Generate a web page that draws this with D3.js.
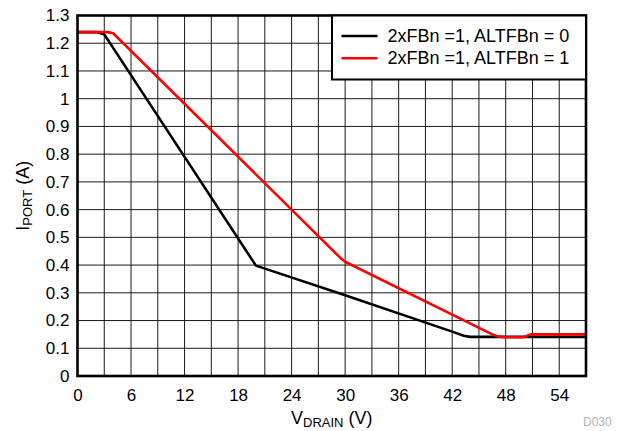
<!DOCTYPE html>
<html>
<meta charset="utf-8">
<head>
<script src="https://d3js.org/d3.v7.min.js"></script>
<style>
  html, body {margin:0; padding:0; background:#fff;}
  svg {display:block; font-family:"Liberation Sans", Arial, sans-serif;}
</style>
</head>
<body>
<svg class="svg"></svg>
<script>

// curve data: V_DRAIN (V), I_PORT (A)
const blackV = [0, 2.2, 3, 20, 30, 42, 43.3, 44, 57]
const blackI = [1.24, 1.24, 1.232, 0.398, 0.291, 0.16, 0.145, 0.141, 0.141]

const redV = [0, 3.4, 4, 29.5, 30, 46.5, 47.2, 48, 50, 50.8, 57]
const redI = [1.24, 1.24, 1.236, 0.425, 0.412, 0.15, 0.142, 0.14, 0.14, 0.15, 0.15]

const legendLabels = ["2xFBn =1, ALTFBn = 0", "2xFBn =1, ALTFBn = 1"]
const seriesColors = ["#000000", "#ff0000"]

const xTicks = [0, 6, 12, 18, 24, 30, 36, 42, 48, 54]
const xGrid = d3.range(0, 58, 3)
const yTicks = d3.range(0, 14).map(d => d / 10)

const margin = ({left:77.5, right:36, top:15.5, bottom:55})
const width = 622, height = 431

const svg = d3.select("svg")
  .attr("width", width)
  .attr("height", height)

const x = d3.scaleLinear().domain([0, 57]).range([margin.left, width - margin.right])
const y = d3.scaleLinear().domain([0, 1.3]).range([height - margin.bottom, margin.top])

// grid
svg.append("g")
  .selectAll("line")
  .data(xGrid)
  .enter().append("line")
  .attr("x1", d => x(d)).attr("x2", d => x(d))
  .attr("y1", y(0)).attr("y2", y(1.3))
  .attr("stroke", "#1a1a1a")
  .attr("stroke-width", 1)

svg.append("g")
  .selectAll("line")
  .data(yTicks)
  .enter().append("line")
  .attr("x1", x(0)).attr("x2", x(57))
  .attr("y1", d => y(d)).attr("y2", d => y(d))
  .attr("stroke", "#1a1a1a")
  .attr("stroke-width", 1)

// tick labels
const xAxis = d3.axisBottom(x).tickValues(xTicks).tickSize(0).tickPadding(13).tickFormat(d3.format("d"))
svg.append("g")
  .attr("transform", "translate(0," + y(0) + ")")
  .call(xAxis)
  .call(g => g.select(".domain").remove())
  .selectAll("text")
  .style("font-size", "17px")
  .style("font-family", "Liberation Sans, Arial, sans-serif")
  .attr("fill", "#000")

const yAxis = d3.axisLeft(y).tickValues(yTicks).tickSize(0).tickPadding(8).tickFormat(d => d3.format("")(+d.toFixed(1)))
svg.append("g")
  .attr("transform", "translate(" + x(0) + ",0)")
  .call(yAxis)
  .call(g => g.select(".domain").remove())
  .selectAll("text")
  .style("font-size", "17px")
  .style("font-family", "Liberation Sans, Arial, sans-serif")
  .attr("fill", "#000")

// curves
const line = d3.line()
  .x(d => x(d[0]))
  .y(d => y(d[1]))

const series = [d3.zip(blackV, blackI), d3.zip(redV, redI)]

svg.append("g")
  .selectAll("path")
  .data(series)
  .enter().append("path")
  .attr("d", line)
  .attr("fill", "none")
  .attr("stroke", (d, i) => seriesColors[i])
  .attr("stroke-width", 2.6)
  .attr("stroke-linejoin", "round")

// frame
svg.append("rect")
  .attr("x", x(0)).attr("y", y(1.3))
  .attr("width", x(57) - x(0)).attr("height", y(0) - y(1.3))
  .attr("fill", "none")
  .attr("stroke", "#000")
  .attr("stroke-width", 2.6)

// legend
const lg = svg.append("g")
lg.append("rect")
  .attr("x", 332).attr("y", y(1.3))
  .attr("width", x(57) - 332).attr("height", 64)
  .attr("fill", "#fff")
  .attr("stroke", "#000")
  .attr("stroke-width", 2)

lg.selectAll(".lgline")
  .data(legendLabels)
  .enter().append("line")
  .attr("class", "lgline")
  .attr("x1", 341.5).attr("x2", 377.5)
  .attr("y1", (d, i) => 36 + i * 22.3).attr("y2", (d, i) => 36 + i * 22.3)
  .attr("stroke", (d, i) => seriesColors[i])
  .attr("stroke-width", 2.6)

lg.selectAll(".lgtext")
  .data(legendLabels)
  .enter().append("text")
  .attr("class", "lgtext")
  .attr("x", 387.5)
  .attr("y", (d, i) => 42 + i * 22.3)
  .text(d => d)
  .style("font-size", "18px")
  .attr("fill", "#000")

// axis titles
const xt = svg.append("text")
  .attr("x", (x(0) + x(57)) / 2)
  .attr("y", 424)
  .attr("text-anchor", "middle")
  .style("font-size", "18px")
  .attr("fill", "#000")
xt.append("tspan").text("V")
xt.append("tspan").text("DRAIN").attr("dy", 3).style("font-size", "13px")
xt.append("tspan").text(" (V)").attr("dy", -3)

const yt = svg.append("text")
  .attr("transform", "translate(29," + (y(0.65)) + ") rotate(-90)")
  .attr("text-anchor", "middle")
  .style("font-size", "18px")
  .attr("fill", "#000")
yt.append("tspan").text("I")
yt.append("tspan").text("PORT").attr("dy", 3).style("font-size", "13px")
yt.append("tspan").text(" (A)").attr("dy", -3)

// figure id
svg.append("text")
  .attr("x", 583)
  .attr("y", 426)
  .text("D030")
  .style("font-size", "12px")
  .attr("fill", "#b3b3b3")

</script>
</body>
</html>
